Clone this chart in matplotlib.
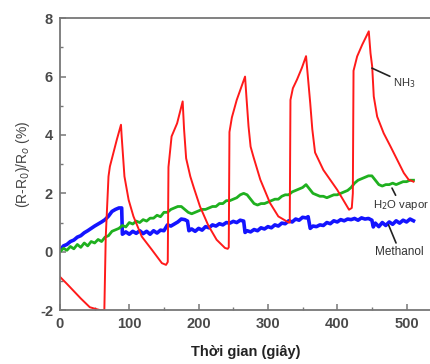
import matplotlib
matplotlib.use("Agg")
import matplotlib.pyplot as plt
from matplotlib.ticker import MultipleLocator

plt.rcParams['font.family'] = ['Liberation Sans', 'DejaVu Sans']
plt.rcParams['axes.unicode_minus'] = False

# NH3 response (time in s, response in %)
nh3_t = [0, 10, 20, 30, 43, 50, 58, 64,
         66, 70, 72, 77, 82, 88,
         89, 93, 99, 106, 118, 132.5, 147, 153,
         155.5, 156.5, 161, 169, 177,
         179, 182, 188, 193, 202, 214, 226, 238, 242,
         243.5, 244.5, 248, 255, 261, 267,
         269, 272, 275, 279, 289, 303, 315, 330,
         331.5, 332.5, 336, 342, 349, 355,
         358, 361, 364, 368, 380, 400, 417, 421,
         422.5, 423.5, 428.7, 436, 445.5,
         448, 450.4, 452.7, 457.6, 467, 477, 486.5, 496, 503, 510]
nh3_y = [-0.86, -1.1, -1.35, -1.6, -1.9, -1.95, -2.0, -2.0,
         0.5, 2.58, 2.92, 3.38, 3.84, 4.35,
         3.95, 2.58, 1.78, 1.21, 0.52, 0.07, -0.39, -0.45,
         -0.35, 2.9, 3.95, 4.4, 5.15,
         4.2, 3.2, 2.58, 2.2, 1.55, 0.9, 0.41, 0.13, 0.1,
         0.15, 4.1, 4.6, 5.2, 5.6, 6.0,
         5.3, 4.3, 3.6, 3.26, 2.47, 1.67, 1.21, 1.0,
         1.0, 5.2, 5.6, 5.9, 6.3, 6.7,
         5.9, 5.1, 4.2, 3.4, 2.8, 2.12, 1.44, 1.5,
         2.0, 6.2, 6.69, 7.09, 7.55,
         6.8, 6.35, 5.32, 4.63, 4.06, 3.6, 3.15, 2.7, 2.47, 2.4]

# H2O vapor response
h2o_t = list(range(0, 515, 5))
h2o_y = [0.0, 0.12, 0.05, 0.18, 0.1, 0.25, 0.15, 0.3, 0.2, 0.35, 0.3, 0.42, 0.35, 0.5, 0.55, 0.7,
         0.75, 0.8, 0.9, 0.85, 1.0, 0.95, 1.05, 1.0, 1.1, 1.05, 1.15, 1.15, 1.25, 1.2, 1.35, 1.35,
         1.45, 1.5, 1.55, 1.55, 1.45, 1.35, 1.3, 1.35, 1.4, 1.45, 1.45, 1.5, 1.55, 1.55, 1.65, 1.65,
         1.75, 1.75, 1.8, 1.85, 1.95, 2.0, 1.95, 1.8, 1.65, 1.6, 1.65, 1.65, 1.7, 1.75, 1.8, 1.8,
         1.9, 1.95, 1.95, 2.05, 2.1, 2.15, 2.2, 2.3, 2.15, 2.0, 1.95, 1.9, 1.9, 1.85, 1.9, 1.95,
         1.95, 2.0, 2.05, 2.1, 2.2, 2.35, 2.45, 2.5, 2.55, 2.6, 2.6, 2.45, 2.3, 2.25, 2.3, 2.3,
         2.35, 2.3, 2.35, 2.4, 2.4, 2.45, 2.45]

# Methanol response
meoh_t = [0, 5, 10, 15, 20, 25, 30, 35, 40, 45, 50, 55, 60, 65, 70, 75, 80, 85, 89, 90,
          95, 100, 105, 110, 115, 120, 125, 130, 135, 140, 145, 150, 155, 160, 165, 170, 175, 180,
          184, 186, 190, 195, 200, 205, 210, 215, 220, 225, 230, 235, 240, 245, 250, 255, 260, 265,
          267, 270, 275, 280, 285, 290, 295, 300, 305, 310, 315, 320, 325, 330, 335, 340, 345, 350,
          355, 358, 361, 365, 370, 375, 380, 385, 390, 395, 400, 405, 410, 415, 420, 425, 430, 435,
          440, 445, 450, 452, 455, 460, 465, 470, 475, 480, 485, 490, 495, 500, 505, 510]
meoh_y = [0.05, 0.2, 0.25, 0.35, 0.4, 0.5, 0.55, 0.65, 0.72, 0.8, 0.88, 0.95, 1.02, 1.1, 1.22, 1.38,
          1.45, 1.5, 1.5, 0.6, 0.68, 0.6, 0.7, 0.63, 0.72, 0.62, 0.7, 0.6, 0.72, 0.64, 0.74, 0.72,
          0.92, 0.88, 0.95, 1.02, 1.12, 1.1, 1.05, 0.72, 0.78, 0.7, 0.8, 0.74, 0.86, 0.82, 0.92, 0.88,
          0.96, 0.92, 1.0, 0.98, 1.04, 1.0, 1.08, 1.05, 0.66, 0.72, 0.68, 0.76, 0.72, 0.82, 0.78, 0.86,
          0.82, 0.92, 0.88, 0.98, 0.96, 1.06, 1.02, 1.12, 1.08, 1.18, 1.16, 1.2, 0.8, 0.88, 0.86, 0.92,
          0.9, 1.0, 0.96, 1.06, 1.02, 1.1, 1.06, 1.12, 1.1, 1.14, 1.08, 1.16, 1.12, 1.14, 1.08, 0.85,
          0.98, 0.86, 1.0, 0.9, 1.02, 0.94, 1.06, 0.98, 1.08, 1.02, 1.12, 1.06]

fig = plt.figure(figsize=(4.3, 3.64), dpi=100)
ax = fig.add_axes([0.1395, 0.148, 0.864, 0.802])

ax.plot(meoh_t, meoh_y, color='#1414ff', lw=2.6)
ax.plot(h2o_t, h2o_y, color='#1fb01f', lw=2.0)
ax.plot(nh3_t, nh3_y, color='#ff1a1a', lw=1.4)

ax.set_xlim(0, 536)
ax.set_ylim(-2, 8)
ax.xaxis.set_major_locator(MultipleLocator(100))
ax.xaxis.set_minor_locator(MultipleLocator(50))
ax.yaxis.set_major_locator(MultipleLocator(2))
ax.yaxis.set_minor_locator(MultipleLocator(1))

for s in ax.spines.values():
    s.set_color('#777777')
    s.set_linewidth(1.3)
ax.spines['right'].set_visible(False)

ax.tick_params(which='both', direction='in', color='#777777', top=False, right=False)
ax.tick_params(which='major', length=4, width=1.1, labelsize=10.5, labelcolor='#4a4a4a', pad=5)
ax.tick_params(which='minor', length=2.5, width=1.0)
for lab in ax.get_xticklabels() + ax.get_yticklabels():
    lab.set_fontweight('bold')

ax.set_xlabel('Thời gian (giây)', fontsize=10.5, fontweight='bold', color='#222222', labelpad=10)
ax.set_ylabel('(R-R$_0$)/R$_o$ (%)', fontsize=10, color='#444444', labelpad=6)

ann = dict(arrowstyle='-', color='#222222', lw=1.2, shrinkA=0, shrinkB=0)
ax.annotate('NH$_3$', xy=(450, 6.29), xytext=(480, 5.79), fontsize=8, color='#333333',
            va='center', arrowprops=ann)
ax.annotate('H$_2$O vapor', xy=(479, 2.18), xytext=(451, 1.6), fontsize=8.2, color='#333333',
            va='center', arrowprops=ann, annotation_clip=False)
ax.annotate('Methanol', xy=(474, 0.92), xytext=(455, 0.0), fontsize=8.5, color='#333333',
            va='center', arrowprops=ann)

fig.savefig('out.png', dpi=100)
